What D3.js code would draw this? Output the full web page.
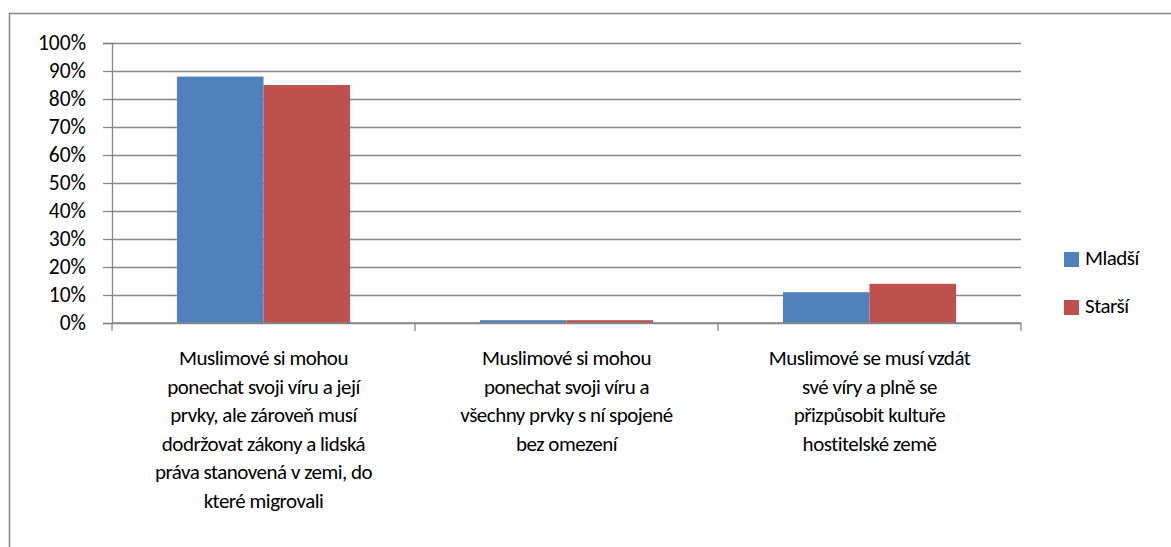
<!DOCTYPE html>
<html>
<head>
<meta charset="utf-8">
<script src="https://cdn.jsdelivr.net/npm/d3@7"></script>
<style>
  html, body { margin: 0; padding: 0; background: #fff; }
  svg text { font-family: Carlito, Lato, sans-serif; fill: #000; }
</style>
</head>
<body>
<svg id="chart" width="1171" height="547"></svg>
<script>
// categories (line breaks as in the original)
const categories = [
  ["Muslimové si mohou", "ponechat svoji víru a její", "prvky, ale zároveň musí", "dodržovat zákony a lidská", "práva stanovená v zemi, do", "které migrovali"],
  ["Muslimové si mohou", "ponechat svoji víru a", "všechny prvky s ní spojené", "bez omezení"],
  ["Muslimové se musí vzdát", "své víry a plně se", "přizpůsobit kultuře", "hostitelské země"]
];

// series
const seriesNames = ["Mladší", "Starší"];
const mladsi = [0.88, 0.01, 0.11];
const starsi = [0.85, 0.01, 0.14];
const yTicks = [0, 0.1, 0.2, 0.3, 0.4, 0.5, 0.6, 0.7, 0.8, 0.9, 1.0];

const colors = ["#4F81BD", "#C0504D"];
const gridColor = "#868686";

const svg = d3.select("#chart");

// outer frame (only top/left visible)
svg.append("rect")
  .attr("x", 9.5).attr("y", 13.5)
  .attr("width", 1200).attr("height", 600)
  .attr("fill", "none")
  .attr("stroke", gridColor)
  .attr("stroke-width", 1.5);

// plot area
const pL = 112, pR = 1021, pT = 43, pB = 323;

const y = d3.scaleLinear().domain([0, 1]).range([pB, pT]);

const catIdx = categories.map((d, i) => i);
const x0 = d3.scaleBand().domain(catIdx).range([pL, pR]).padding(0);
const x1 = d3.scaleBand().domain([0, 1]).range([0, x0.bandwidth()])
  .paddingInner(0).paddingOuter(0.75);

// gridlines
svg.append("g")
  .attr("transform", `translate(${pL},0)`)
  .call(d3.axisLeft(y).tickValues(yTicks).tickSize(-(pR - pL)).tickFormat(""))
  .call(g => g.select(".domain").remove())
  .call(g => g.selectAll("line").attr("stroke", gridColor).attr("stroke-width", 1.3));

// bars
const data = catIdx.map(i => [mladsi[i], starsi[i]]);
const groups = svg.append("g").selectAll("g")
  .data(data)
  .enter()
  .append("g")
  .attr("transform", (d, i) => `translate(${x0(i)},0)`);

groups.selectAll("rect")
  .data(d => d)
  .enter()
  .append("rect")
  .attr("x", (d, j) => x1(j))
  .attr("y", d => y(d))
  .attr("width", x1.bandwidth())
  .attr("height", d => y(0) - y(d))
  .attr("fill", (d, j) => colors[j]);

// y axis
const yAxis = svg.append("g")
  .attr("transform", `translate(${pL},0)`)
  .call(d3.axisLeft(y).tickValues(yTicks).tickSize(9).tickPadding(17)
    .tickFormat(d => Math.round(d * 100) + "%"));
yAxis.selectAll("line, path").attr("stroke", gridColor).attr("stroke-width", 1.3);
yAxis.attr("font-family", null).attr("font-size", null);
yAxis.selectAll("text").attr("font-size", "21.5px").attr("fill", "#000");

// x axis line + boundary ticks
const xAxisG = svg.append("g");
xAxisG.append("line")
  .attr("x1", pL).attr("x2", pR)
  .attr("y1", y(0)).attr("y2", y(0))
  .attr("stroke", gridColor).attr("stroke-width", 1.3);
const bounds = catIdx.map(i => x0(i)).concat([pR]);
xAxisG.selectAll("line.tk")
  .data(bounds)
  .enter()
  .append("line")
  .attr("class", "tk")
  .attr("x1", d => d).attr("x2", d => d)
  .attr("y1", y(0)).attr("y2", y(0) + 8)
  .attr("stroke", gridColor).attr("stroke-width", 1.3);

// category labels
const lineH = 28.6;
const labels = svg.append("g").selectAll("text")
  .data(categories)
  .enter()
  .append("text")
  .attr("text-anchor", "middle")
  .attr("font-size", "21px")
  .attr("letter-spacing", "-0.5px")
  .attr("transform", (d, i) => `translate(${x0(i) + x0.bandwidth() / 2},365)`);
labels.selectAll("tspan")
  .data(d => d)
  .enter()
  .append("tspan")
  .attr("x", 0)
  .attr("y", (d, i) => i * lineH)
  .text(d => d);

// legend
const lg = svg.append("g").attr("class", "legend");
const lgX = 1064, lgY = 252, lgStep = 48, box = 15;
lg.selectAll("rect")
  .data(seriesNames)
  .enter()
  .append("rect")
  .attr("x", lgX)
  .attr("y", (d, i) => lgY + lgStep * i)
  .attr("width", box).attr("height", box)
  .attr("fill", (d, i) => colors[i]);
lg.selectAll("text")
  .data(seriesNames)
  .enter()
  .append("text")
  .attr("x", lgX + box + 6)
  .attr("y", (d, i) => lgY + lgStep * i + box / 2)
  .attr("dominant-baseline", "middle")
  .attr("font-size", "21px")
  .attr("letter-spacing", "-0.5px")
  .text(d => d);
</script>
</body>
</html>
